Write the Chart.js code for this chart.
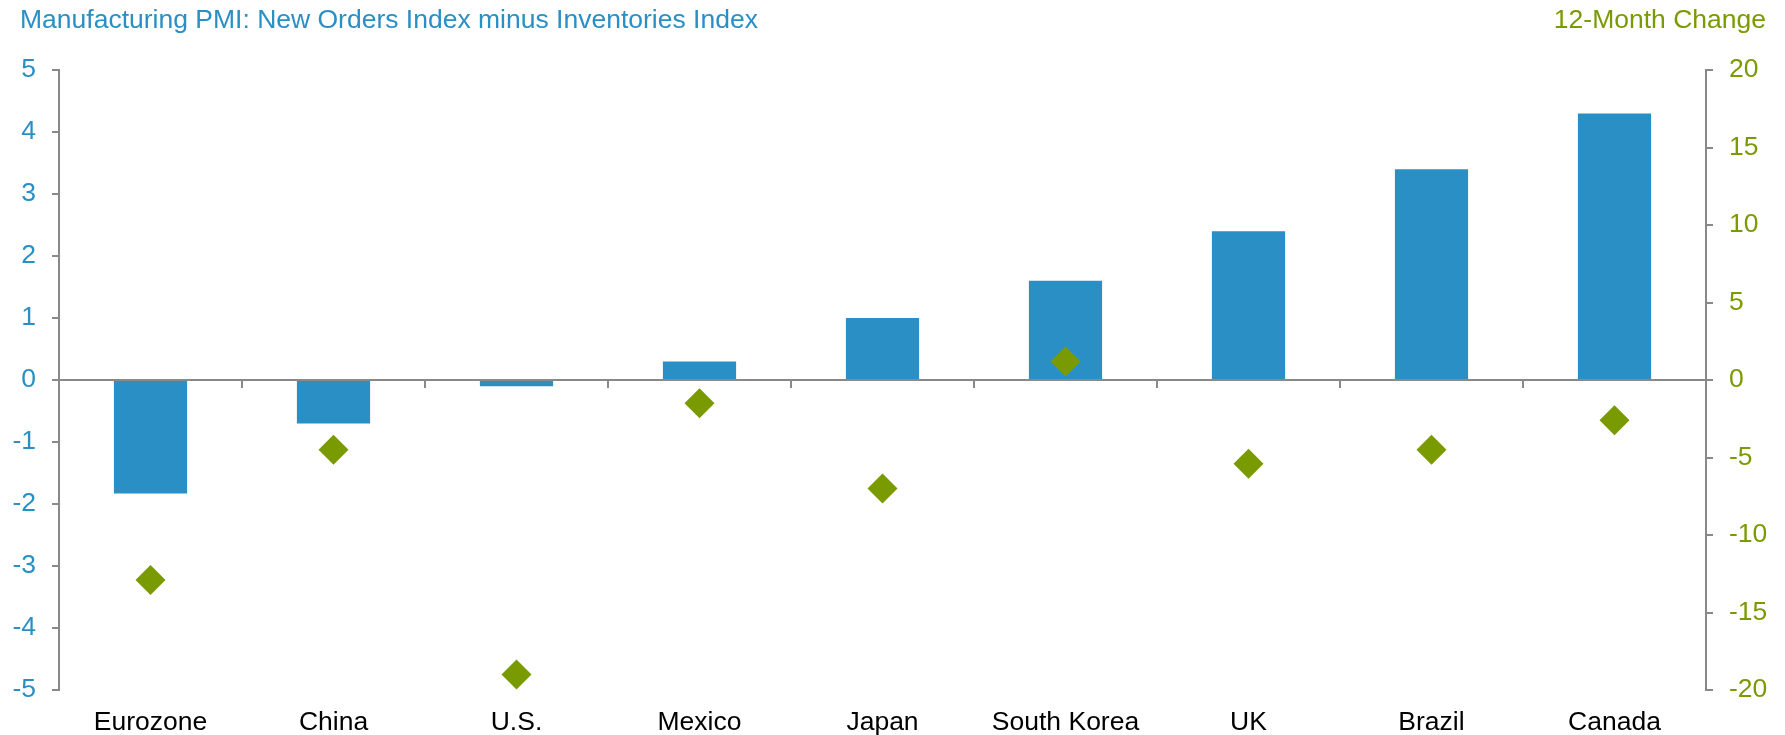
<!DOCTYPE html>
<html><head><meta charset="utf-8">
<script src="https://cdn.jsdelivr.net/npm/chart.js@4.4.0/dist/chart.umd.min.js"></script>
<style>html,body{margin:0;padding:0;background:#fff;overflow:hidden;}#wrap{width:1785px;height:735px;}</style>
</head><body><div id="wrap"><canvas id="c" width="1785" height="735"></canvas></div>
<script>
const categories = ['Eurozone','China','U.S.','Mexico','Japan','South Korea','UK','Brazil','Canada'];
const orderMinusInventory = [-1.83, -0.7, -0.1, 0.3, 1.0, 1.6, 2.4, 3.4, 4.3];
const change12Month = [-12.9, -4.5, -19.0, -1.5, -7.0, 1.2, -5.4, -4.5, -2.6];
const leftTicks = [-5, -4, -3, -2, -1, 0, 1, 2, 3, 4, 5];
const rightTicks = [-20, -15, -10, -5, 0, 5, 10, 15, 20];
const leftTitle = 'Manufacturing PMI: New Orders Index minus Inventories Index';
const rightTitle = '12-Month Change';

const BLUE = '#2A8FC4';
const GREEN = '#7A9A01';
const AXIS = '#898989';
const FONT = '"Liberation Sans", Arial, sans-serif';
const FS = 26.5;

const zeroLine = {
  id: 'zeroLine',
  afterDatasetsDraw(chart) {
    const {ctx, chartArea, scales} = chart;
    const x = scales.x, y = scales.y;
    const y0 = y.getPixelForValue(0);
    ctx.save();
    ctx.strokeStyle = AXIS;
    ctx.lineWidth = 2;
    ctx.beginPath();
    ctx.moveTo(chartArea.left, y0);
    ctx.lineTo(chartArea.right, y0);
    for (let i = 1; i < categories.length; i++) {
      const px = Math.round((x.getPixelForValue(i - 1) + x.getPixelForValue(i)) / 2);
      ctx.moveTo(px, y0);
      ctx.lineTo(px, y0 + 8);
    }
    ctx.stroke();
    ctx.restore();
  }
};

const titles = {
  id: 'titles',
  afterDraw(chart) {
    const ctx = chart.ctx;
    ctx.save();
    ctx.font = FS + 'px ' + FONT;
    ctx.textBaseline = 'alphabetic';
    ctx.fillStyle = BLUE;
    ctx.textAlign = 'left';
    ctx.fillText(leftTitle, 20, 28);
    ctx.fillStyle = GREEN;
    ctx.textAlign = 'right';
    ctx.fillText(rightTitle, 1766, 28);
    ctx.restore();
  }
};

new Chart(document.getElementById('c'), {
  data: {
    labels: categories,
    datasets: [
      {
        type: 'line',
        label: rightTitle,
        data: change12Month,
        yAxisID: 'y1',
        showLine: false,
        pointStyle: 'rectRot',
        pointRadius: 15,
        pointHoverRadius: 15,
        pointBackgroundColor: GREEN,
        pointBorderColor: GREEN,
        pointBorderWidth: 0,
        order: 0
      },
      {
        type: 'bar',
        label: leftTitle,
        data: orderMinusInventory,
        yAxisID: 'y',
        backgroundColor: BLUE,
        barPercentage: 0.4,
        categoryPercentage: 1.0,
        order: 1
      }
    ]
  },
  options: {
    responsive: false,
    animation: false,
    layout: { padding: { top: 70, left: 0, right: 0, bottom: 0 } },
    plugins: { legend: { display: false }, tooltip: { enabled: false } },
    scales: {
      x: {
        type: 'category',
        position: 'bottom',
        grid: { display: false, drawTicks: false },
        border: { display: false },
        ticks: { color: '#000', font: { size: FS, family: FONT }, padding: 17, maxRotation: 0, autoSkip: false },
        afterFit(s) { s.height = 45; }
      },
      y: {
        position: 'left',
        min: -5, max: 5,
        afterBuildTicks(s) { s.ticks = leftTicks.map(v => ({ value: v })); },
        ticks: { color: BLUE, font: { size: FS, family: FONT }, padding: 16 },
        grid: { drawOnChartArea: false, drawTicks: true, tickLength: 7, color: AXIS, lineWidth: 2 },
        border: { display: true, color: AXIS, width: 2 },
        afterFit(s) { s.width = 59; }
      },
      y1: {
        position: 'right',
        min: -20, max: 20,
        afterBuildTicks(s) { s.ticks = rightTicks.map(v => ({ value: v })); },
        ticks: { color: GREEN, font: { size: FS, family: FONT }, padding: 16 },
        grid: { drawOnChartArea: false, drawTicks: true, tickLength: 7, color: AXIS, lineWidth: 2 },
        border: { display: true, color: AXIS, width: 2 },
        afterFit(s) { s.width = 79; }
      }
    }
  },
  plugins: [zeroLine, titles]
});
</script>
</body></html>
